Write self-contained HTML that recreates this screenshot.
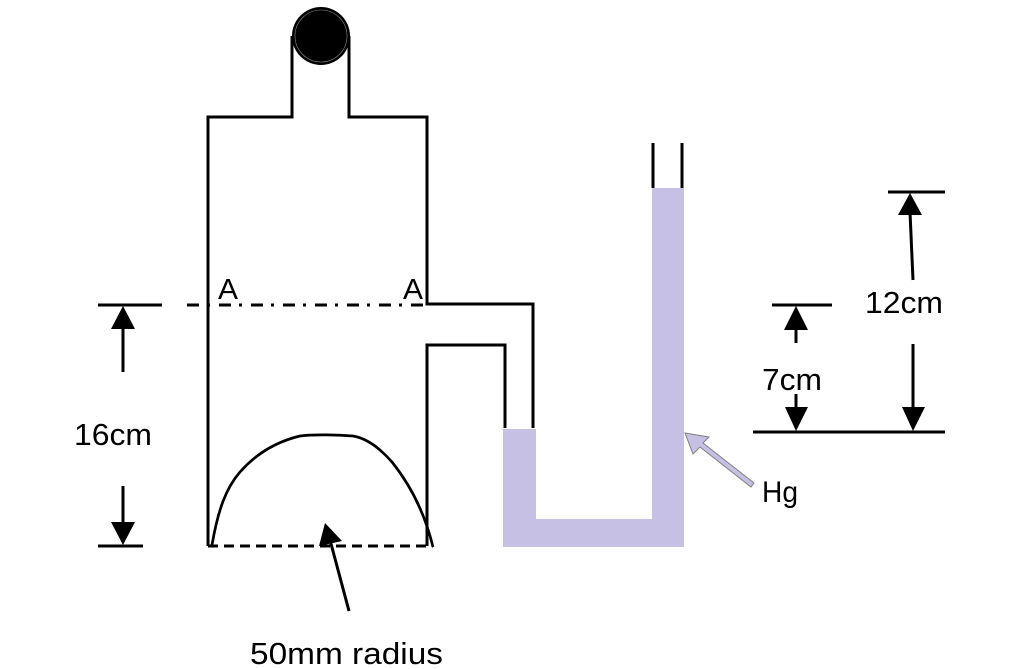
<!DOCTYPE html>
<html>
<head>
<meta charset="utf-8">
<style>
html,body{margin:0;padding:0;background:#fff;}
svg{display:block;}
text{font-family:"Liberation Sans",sans-serif;fill:#000;}
</style>
</head>
<body>
<svg width="1024" height="669" viewBox="0 0 1024 669" xmlns="http://www.w3.org/2000/svg">
  <!-- Hg fill -->
  <path d="M503,429 L536,429 L536,519 L652,519 L652,188 L684,188 L684,547 L503,547 Z" fill="#c6c0e4"/>

  <!-- Tank outline -->
  <g fill="none" stroke="#000" stroke-width="3" stroke-linejoin="miter">
    <path d="M208,546 L208,117 L292,117 L292,36"/>
    <path d="M349,36 L349,117 L427,117 L427,304 L533,304 L533,428"/>
    <path d="M427,546 L427,345 L505,345 L505,428"/>
    <!-- open tube top -->
    <line x1="653" y1="143" x2="653" y2="188"/>
    <line x1="682" y1="143" x2="682" y2="188"/>
  </g>

  <!-- Circle -->
  <circle cx="321" cy="36" r="29" fill="#000"/>
  <circle cx="321" cy="36" r="26" fill="none" stroke="#888" stroke-width="0.6"/>

  <!-- dash-dot line A-A -->
  <line x1="187" y1="305" x2="427" y2="305" stroke="#000" stroke-width="3" stroke-dasharray="12,8,3,9"/>

  <!-- dashed bottom line -->
  <line x1="208" y1="546" x2="433" y2="546" stroke="#000" stroke-width="3" stroke-dasharray="10,6"/>

  <!-- arch -->
  <path d="M212,545 C218,510 226,488 240,472 C255,455 275,442 300,436 C315,434 340,435 353,436 C365,438 378,446 392,462 C408,482 424,510 433,547" fill="none" stroke="#000" stroke-width="2.7"/>

  <!-- A labels -->
  <text x="218" y="299" font-size="29" textLength="20" lengthAdjust="spacingAndGlyphs">A</text>
  <text x="403" y="299" font-size="29" textLength="20" lengthAdjust="spacingAndGlyphs">A</text>

  <!-- 16cm dimension -->
  <g stroke="#000" stroke-width="3" fill="none">
    <line x1="98" y1="305" x2="162" y2="305"/>
    <line x1="98" y1="546" x2="143" y2="546"/>
    <line x1="123" y1="325" x2="123" y2="372"/>
    <line x1="123" y1="486" x2="123" y2="525"/>
  </g>
  <polygon points="123,306 111,329 135,329" fill="#000"/>
  <polygon points="123,545 111,522 135,522" fill="#000"/>
  <text x="74" y="445" font-size="31" textLength="78" lengthAdjust="spacingAndGlyphs">16cm</text>

  <!-- 50mm radius arrow -->
  <line x1="349" y1="611" x2="330" y2="540" stroke="#000" stroke-width="3"/>
  <polygon points="325,523 319,546 342,541" fill="#000"/>
  <text x="250" y="664" font-size="31" textLength="193" lengthAdjust="spacingAndGlyphs">50mm radius</text>

  <!-- 12cm dimension -->
  <g stroke="#000" stroke-width="3" fill="none">
    <line x1="888" y1="192" x2="945" y2="192"/>
    <line x1="753" y1="432" x2="945" y2="432"/>
    <line x1="913" y1="280" x2="910" y2="212"/>
    <line x1="913" y1="344" x2="913" y2="410"/>
  </g>
  <polygon points="910,193 898,215 922,215" fill="#000"/>
  <polygon points="913,431 902,407 925,407" fill="#000"/>
  <text x="865" y="313" font-size="31" textLength="78" lengthAdjust="spacingAndGlyphs">12cm</text>

  <!-- 7cm dimension -->
  <g stroke="#000" stroke-width="3" fill="none">
    <line x1="772" y1="305" x2="832" y2="305"/>
    <line x1="796" y1="328" x2="796" y2="343"/>
    <line x1="796" y1="394" x2="796" y2="410"/>
  </g>
  <polygon points="796,306 784,330 808,330" fill="#000"/>
  <polygon points="796,431 785,407 808,407" fill="#000"/>
  <text x="762" y="390" font-size="31" textLength="60" lengthAdjust="spacingAndGlyphs">7cm</text>

  <!-- Hg arrow -->
  <polygon points="685,433 709,437 703,443 754,483 751,487 700,447 693,454" fill="#c6c0e4" stroke="#808080" stroke-width="1"/>
  <text x="762" y="502" font-size="30" textLength="36" lengthAdjust="spacingAndGlyphs">Hg</text>
</svg>
</body>
</html>
